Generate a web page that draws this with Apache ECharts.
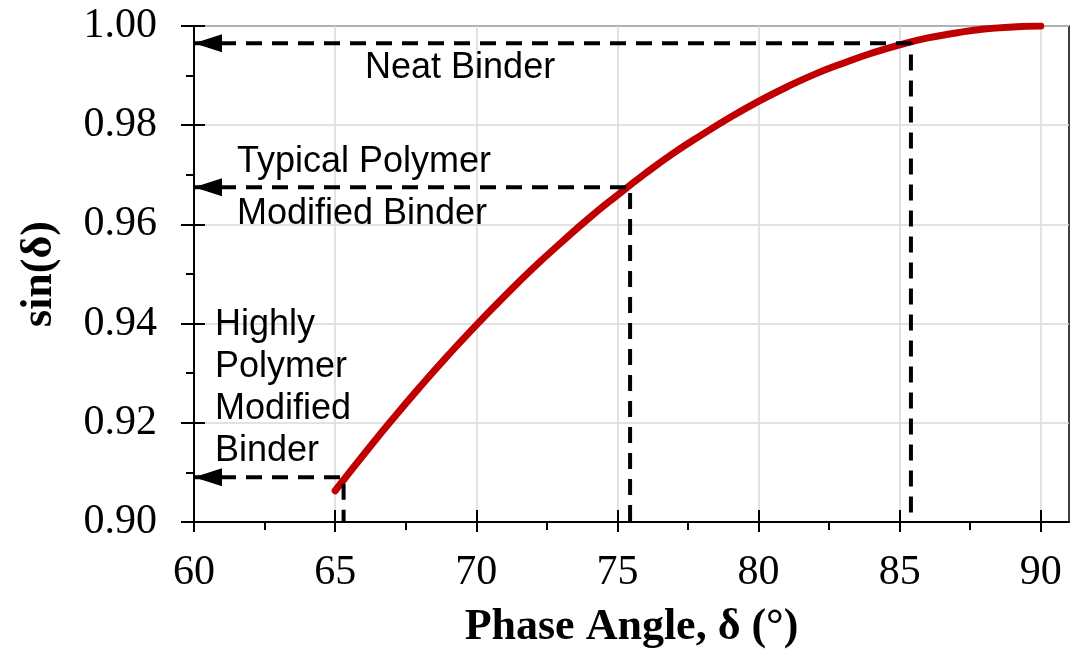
<!DOCTYPE html>
<html>
<head>
<meta charset="utf-8">
<script src="https://cdn.jsdelivr.net/npm/echarts@6/dist/echarts.min.js"></script>
<style>html,body{margin:0;padding:0;background:#fff}#chart{width:1081px;height:650px}</style>
</head>
<body>
<div id="chart"></div>
<script>
// ---- data ----
const phaseAngles = [65,66,67,68,69,70,71,72,73,74,75,76,77,78,79,80,81,82,83,84,85,86,87,88,89,90];
const sinValues = [0.9063,0.9135,0.9205,0.9272,0.9336,0.9397,0.9455,0.9511,0.9563,0.9613,0.9659,0.9703,0.9744,0.9781,0.9816,0.9848,0.9877,0.9903,0.9925,0.9945,0.9962,0.9976,0.9986,0.9994,0.9998,1.0000];
const xTickValues = [60,65,70,75,80,85,90];
const xMinorTickValues = [62.5,67.5,72.5,77.5,82.5,87.5];
const guideX = [65.3, 75.45, 85.4];
const guideY = [0.909, 0.9675, 0.9965];
const noteText = ['Neat Binder', 'Typical Polymer\nModified Binder', 'Highly\nPolymer\nModified\nBinder'];
const noteX = [66.06, 61.52, 60.74];
const noteY = [0.9915, 0.9673, 0.9271];

const chart = echarts.init(document.getElementById('chart'), null, {renderer: 'canvas'});
const serif = 'Liberation Serif, Times New Roman, serif';
const sans = 'Liberation Sans, Arial, sans-serif';

const curve = phaseAngles.map((x, i) => [x, sinValues[i]]);
const guideSeries = guideX.map((x, i) => ({
  type: 'line', name: 'guide' + i, xAxisIndex: 0, yAxisIndex: 0, z: 5, silent: true,
  data: [[60, guideY[i]], [x, guideY[i]], [x, 0.9]],
  showSymbol: false, symbol: 'none',
  lineStyle: {color: '#000', width: 4, type: [16, 10], opacity: 1, cap: 'butt'}
}));
const notes = noteText.map((t, i) => ({
  value: [noteX[i], noteY[i]],
  label: {formatter: t, lineHeight: i === 1 ? 52 : 42}
}));

const xBase = {type: 'value', min: 60, max: 91, gridIndex: 0, position: 'bottom'};
const yBase = {type: 'value', min: 0.9, max: 1.0, interval: 0.02, gridIndex: 0, position: 'left'};

chart.setOption({
  animation: false,
  backgroundColor: '#fff',
  grid: {left: 194, right: 12, top: 26, bottom: 128, containLabel: false, outerBoundsMode: 'none',
         show: true, borderColor: '#000', borderWidth: 1.5, backgroundColor: 'transparent'},
  xAxis: [
    Object.assign({}, xBase, {
      interval: 5,
      name: 'Phase Angle, δ (°)', nameLocation: 'middle', nameGap: 84,
      nameTextStyle: {fontFamily: serif, fontWeight: 'bold', fontSize: 44, color: '#000'},
      axisLine: {show: true, lineStyle: {color: '#000', width: 2}},
      axisTick: {show: true, inside: false, length: 10, customValues: xTickValues, lineStyle: {color: '#000', width: 2}},
      axisLabel: {show: true, customValues: xTickValues, margin: 30, fontFamily: serif, fontSize: 42, color: '#000'},
      splitLine: {show: true, lineStyle: {color: '#d9d9d9', width: 1.5}}
    }),
    Object.assign({}, xBase, {
      axisLine: {show: false},
      axisTick: {show: true, inside: true, length: 12, customValues: xTickValues, lineStyle: {color: '#000', width: 2}},
      axisLabel: {show: false}, splitLine: {show: false}
    }),
    Object.assign({}, xBase, {
      axisLine: {show: false},
      axisTick: {show: true, inside: false, length: 8, customValues: xMinorTickValues, lineStyle: {color: '#000', width: 2}},
      axisLabel: {show: false}, splitLine: {show: false}
    })
  ],
  yAxis: [
    Object.assign({}, yBase, {
      name: 'sin(δ)', nameLocation: 'middle', nameGap: 132, nameRotate: 90,
      nameTextStyle: {fontFamily: serif, fontWeight: 'bold', fontSize: 44, color: '#000'},
      axisLine: {show: true, lineStyle: {color: '#000', width: 2}},
      axisTick: {show: true, inside: false, length: 13, lineStyle: {color: '#000', width: 2}},
      minorTick: {show: true, splitNumber: 2, length: 8, lineStyle: {color: '#000', width: 2}},
      axisLabel: {show: true, margin: 37, fontFamily: serif, fontSize: 42, color: '#000',
                  formatter: v => v.toFixed(2)},
      splitLine: {show: true, lineStyle: {color: '#d9d9d9', width: 1.5}}
    }),
    Object.assign({}, yBase, {
      axisLine: {show: false},
      axisTick: {show: true, inside: true, length: 11, lineStyle: {color: '#000', width: 2}},
      axisLabel: {show: false}, splitLine: {show: false}
    })
  ],
  series: [
    {
      type: 'line', name: 'sin', xAxisIndex: 0, yAxisIndex: 0, data: curve, smooth: true,
      showSymbol: false, symbol: 'none', z: 3, silent: true,
      lineStyle: {color: '#C00000', width: 7, cap: 'round', opacity: 1}
    }
  ].concat(guideSeries).concat([
    {
      type: 'scatter', name: 'arrows', xAxisIndex: 0, yAxisIndex: 0, z: 6, silent: true,
      data: guideY.map(y => [60, y]),
      symbol: 'triangle', symbolSize: [18, 28], symbolRotate: 90, symbolOffset: [14, 0],
      itemStyle: {color: '#000', opacity: 1}
    },
    {
      type: 'scatter', name: 'notes', xAxisIndex: 0, yAxisIndex: 0, z: 7, silent: true,
      symbolSize: 0, data: notes, itemStyle: {opacity: 1},
      label: {show: true, position: 'inside', align: 'left', verticalAlign: 'middle',
              fontFamily: sans, fontSize: 36, color: '#000', opacity: 1}
    }
  ])
});
</script>
</body>
</html>
